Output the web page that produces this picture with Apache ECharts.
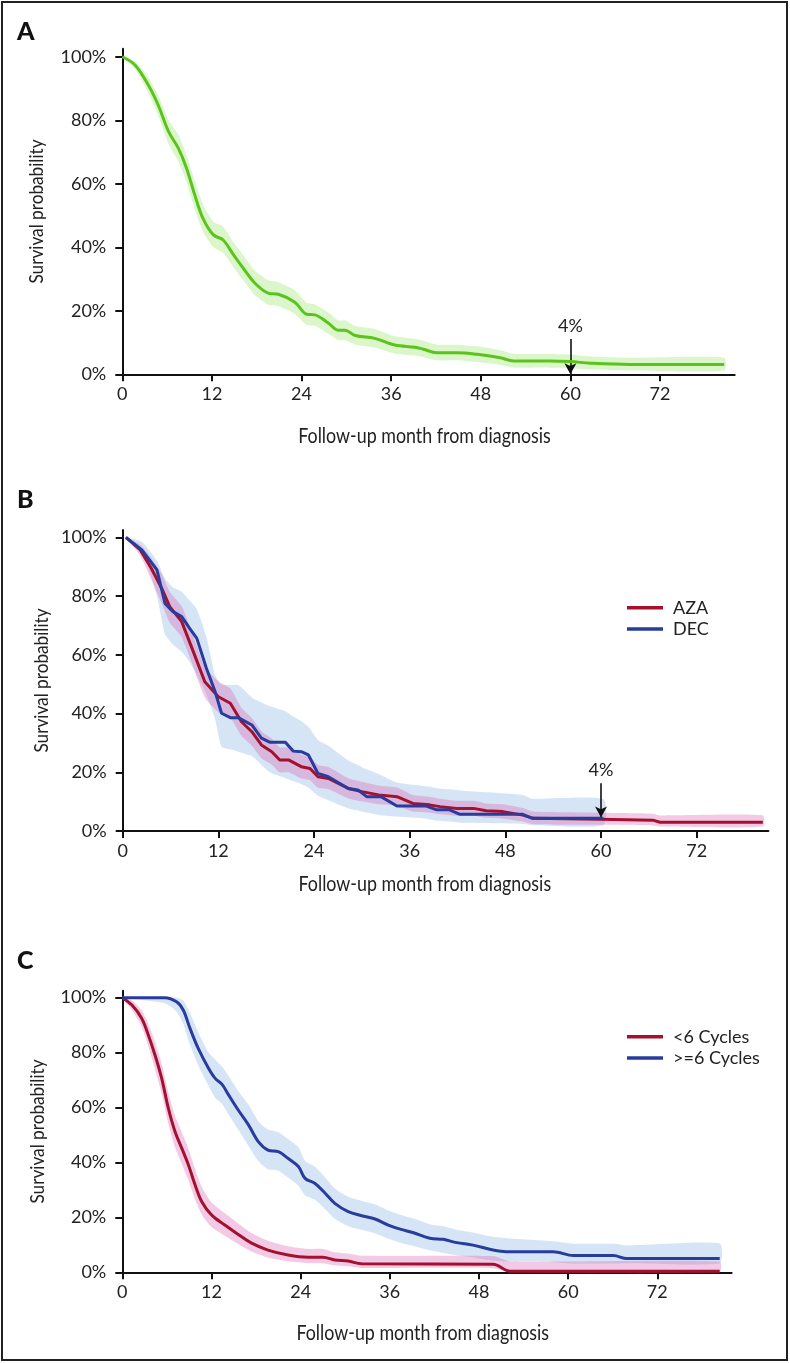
<!DOCTYPE html>
<html>
<head>
<meta charset="utf-8">
<script src="https://cdn.jsdelivr.net/npm/echarts@6/dist/echarts.min.js"></script>
<style>
html,body{margin:0;padding:0;background:#fff;}
#chart{width:790px;height:1363px;}
</style>
</head>
<body>
<div id="chart"></div>
<script>
// ---------- Panel A: all patients ----------
const aMonths = [0, 1.7, 3.5, 4.8, 6.2, 7.5, 8.6, 9.7, 10.8, 12.2, 13.5, 14.9, 16.2, 17.8, 19.6, 20.9, 23.1, 24.7, 25.8, 27.6, 28.9, 29.8, 31.2, 33.8, 36.5, 39.2, 40.3, 42.1, 44.8, 47.5, 50.6, 52.4, 57.3, 60, 62.7, 68, 80.6];
const aSurv   = [100, 97.4, 91, 84.8, 76.4, 71.2, 64.9, 56.5, 49.1, 43.9, 42.3, 37.6, 33.4, 28.6, 25.5, 25.2, 22.7, 18.9, 18.7, 16.1, 13.9, 13.9, 12.2, 11.3, 9.2, 8.5, 7.9, 6.8, 6.8, 6.3, 5.2, 4.2, 4.2, 4.0, 3.5, 3.1, 3.1];
const aUpper  = [100, 98.5, 93.5, 88, 80, 75.5, 69, 61, 53.5, 48, 46.5, 41.5, 37.5, 32.5, 29.5, 29, 26.5, 22.5, 22, 19.5, 17, 17, 15.2, 14.3, 12, 11.2, 10.6, 9.4, 9.3, 8.8, 7.6, 6.5, 6.4, 6.2, 5.6, 5.2, 5.2];
const aLower  = [100, 96.2, 88.5, 81.5, 72.5, 67, 60.5, 52, 45, 40, 38.3, 33.7, 29.5, 24.8, 21.8, 21.5, 19, 15.5, 15.3, 12.8, 10.8, 10.8, 9.3, 8.4, 6.5, 5.9, 5.4, 4.4, 4.4, 3.9, 3.0, 2.1, 2.1, 1.9, 1.5, 1.2, 1.2];

// ---------- Panel B: AZA vs DEC ----------
const bAzaMonths = [0.4, 2.2, 3.6, 4.9, 5.9, 7.4, 8.7, 10.3, 12, 13.5, 14.9, 16.2, 17.4, 18.7, 19.7, 20.8, 22.4, 23.5, 24.5, 25.8, 28.3, 30, 32.1, 34.4, 36.4, 38.5, 39.8, 41.9, 44, 45.6, 47.7, 50.2, 51.5, 59.9, 66.5, 67.4, 80.3];
const bAzaSurv   = [100, 95.7, 89.4, 82.6, 76.4, 71.3, 62.2, 50.8, 45.7, 43.5, 37.2, 33.8, 29.3, 27, 24.2, 24.2, 21.9, 21.3, 18.5, 17.9, 14.5, 13.4, 12.3, 11.7, 9.4, 8.9, 8.3, 7.7, 7.7, 6.9, 6.6, 5.4, 4.3, 4.0, 3.7, 3.0, 3.0];
const bAzaUpper  = [100, 97.5, 93, 87.5, 81.5, 76.5, 67.5, 56, 51, 48.5, 42, 38.5, 34, 31.5, 28.5, 28.5, 26, 25.3, 22.5, 21.8, 18, 16.8, 15.5, 14.8, 12.3, 11.7, 11, 10.3, 10.3, 9.4, 9.1, 7.8, 6.6, 6.2, 5.9, 5.3, 5.3];
const bAzaLower  = [100, 93.7, 85.5, 77.5, 71, 66, 57, 45.5, 40.5, 38.5, 32.4, 29, 24.8, 22.6, 20, 20, 17.9, 17.3, 14.7, 14.2, 11.1, 10.1, 9.1, 8.6, 6.6, 6.2, 5.7, 5.2, 5.2, 4.5, 4.2, 3.2, 2.3, 2.1, 1.9, 1.5, 1.5];

const bDecMonths = [0.4, 2.4, 4.3, 5.3, 6.3, 7.4, 8.4, 9.3, 10.5, 11.6, 12.4, 13.5, 14.5, 16.2, 17.4, 18.5, 20.4, 21.4, 22.4, 23.3, 24.5, 25.8, 28.3, 29.5, 30.6, 32.4, 34.4, 38.1, 39.4, 41, 42.3, 50.2, 51.4, 60.3];
const bDecSurv   = [100, 95.7, 88.9, 77.5, 74.7, 73, 69, 65.6, 55.4, 47.4, 40.1, 38.6, 38.6, 36.1, 31.6, 30.2, 30.2, 27.2, 27, 25.9, 19.6, 18.5, 14.5, 14, 11.7, 11.7, 8.5, 8.5, 7.2, 7.2, 5.7, 5.7, 4.3, 4.3];
const bDecUpper  = [100, 98.5, 92, 86, 83, 81.5, 78.5, 75.5, 66, 53.1, 49.7, 49.7, 49.7, 45.5, 43.8, 42.5, 40.8, 39, 37.5, 35.5, 31, 29, 24, 22.5, 21, 19, 16.5, 15.2, 14.6, 14.2, 13.8, 12.3, 11, 10.8];
const bDecLower  = [100, 95.5, 80, 67, 63.5, 61, 57.5, 53, 46.5, 38, 28.7, 27.8, 27, 25.5, 22.5, 20, 18, 17, 16, 14.8, 12, 10.5, 7.7, 7, 6.3, 5.4, 4.9, 4.2, 3.5, 3.2, 2.8, 2.4, 2.0, 2.0];

// ---------- Panel C: <6 vs >=6 cycles ----------
const cLowMonths = [0, 1.3, 2.6, 3.5, 4.4, 5.3, 6.2, 7.1, 8, 8.9, 9.8, 10.7, 12, 13.8, 15.6, 17.4, 19.6, 22.3, 25, 27, 28.6, 30.4, 32.2, 49.9, 52.2, 80.4];
const cLowSurv   = [100, 97.3, 92.5, 86.4, 79.1, 70.6, 59.7, 51.2, 45.2, 39.1, 31.8, 25.7, 20.9, 17.2, 13.8, 10.6, 8.1, 6.3, 5.5, 5.5, 4.5, 4.1, 3.1, 2.9, 0.4, 0.4];
const cLowUpper  = [100, 99, 95.5, 90.5, 84, 76, 65.5, 57, 51, 45, 37.5, 31, 25.5, 21.5, 17.8, 14.3, 11.5, 9.5, 8.5, 8.5, 7.3, 6.8, 6, 5.9, 3.9, 3.9];
const cLowLower  = [100, 95.5, 89.5, 82.3, 74, 65, 54, 45.5, 39.5, 33.5, 26.5, 21, 16.5, 13.3, 10.3, 7.6, 5.4, 4, 3.3, 3.3, 2.5, 2.2, 1.6, 1.5, 0, 0];

const cHighMonths = [0, 5.7, 7.3, 8.2, 9.1, 10.2, 11.6, 12.5, 13.4, 14.3, 15.6, 17, 18.3, 19.6, 21, 22.3, 23.7, 24.6, 25.9, 27.3, 28.6, 30.4, 32.2, 34, 35.8, 37.4, 39.2, 41.4, 43.2, 45, 47.2, 49.9, 51.7, 58, 60.7, 66.1, 67.9, 80.4];
const cHighSurv   = [100, 100, 98.5, 95.5, 88.9, 81.6, 74.3, 70.6, 68.5, 64.6, 59.1, 53.6, 47.6, 44.5, 43.9, 41.5, 38.5, 34.2, 32.4, 28.8, 25.1, 22.1, 20.6, 19.4, 17.2, 15.7, 14.4, 12.4, 12.0, 10.8, 9.9, 8.1, 7.5, 7.5, 6.1, 6.1, 5.0, 5.0];
const cHighUpper  = [100, 100, 100, 99, 94.5, 87.5, 80, 77.5, 75, 71.5, 66, 61, 55, 52, 51, 48.5, 45.5, 40.5, 38.5, 34.5, 30.5, 27.5, 26, 24.8, 22.5, 21, 19.6, 17.5, 16.8, 15.5, 14.5, 12.9, 12.4, 11.3, 10.4, 10.4, 9.8, 10.5];
const cHighLower  = [100, 98, 95, 90.5, 83, 75.5, 68, 63.5, 61.5, 57.5, 52, 46, 40.5, 37.5, 37, 34.5, 31.5, 28, 26.5, 23, 19.5, 16.8, 15.5, 14.2, 12.2, 10.8, 9.6, 8, 7, 6.2, 5.4, 4.2, 3.9, 3.7, 3.2, 3.2, 3.3, 3.3];

// ---------- axis / labels ----------
const xTicks = [0, 12, 24, 36, 48, 60, 72];
const yTicks = [0, 20, 40, 60, 80, 100];
const xTitle = 'Follow-up month from diagnosis';
const yTitle = 'Survival probability';
const panelLetters = ['A', 'B', 'C'];
const annoMonth = 60;
const annoText = '4%';
const annoA = [11.1, 0];     // arrow from/to (survival %)
const annoB = [16.3, 4.6];

const GREEN = '#5ac41b', GREEN_BAND = 'rgba(165,232,125,0.40)';
const RED = '#a3112e', BLUE = '#283c9e';
const BLUE_BAND = 'rgba(170,200,235,0.48)';
const PINK_BAND = 'rgba(215,80,170,0.30)';

const TICK_FONT = 'Lato, "Open Sans", sans-serif';
const TITLE_FONT = '20px Lato, "Open Sans", sans-serif';

function toPts(m, v) { return m.map((x, i) => [x, v[i]]); }

function band(gridIdx, months, lower, upper, color, z) {
  return {
    type: 'custom', xAxisIndex: gridIdx, yAxisIndex: gridIdx, silent: true, z: z,
    data: months.map((m, i) => [m, lower[i], upper[i]]),
    encode: { x: 0, y: [1, 2] },
    renderItem: function (params, api) {
      if (params.dataIndex !== 0) return;
      const pts = [];
      for (let i = 0; i < months.length; i++) pts.push(api.coord([months[i], upper[i]]));
      for (let i = months.length - 1; i >= 0; i--) pts.push(api.coord([months[i], lower[i]]));
      return { type: 'polygon', shape: { points: pts, smooth: 0.2 }, style: { fill: color } };
    }
  };
}

function line(gridIdx, name, months, surv, color, smooth, width, extra) {
  return Object.assign({
    type: 'line', name: name, xAxisIndex: gridIdx, yAxisIndex: gridIdx,
    data: toPts(months, surv), showSymbol: false, symbol: 'none',
    smooth: smooth, z: 5,
    lineStyle: { color: color, width: width }, itemStyle: { color: color },
    emphasis: { disabled: true }
  }, extra || {});
}

function anno(from, to) {
  return {
    silent: true, symbol: ['none', 'arrow'], symbolSize: [9, 11],
    lineStyle: { color: '#111', width: 1.6, type: 'solid' },
    label: { show: true, position: 'start', formatter: annoText, color: '#222',
             fontFamily: TICK_FONT, fontSize: 18, distance: 4 },
    data: [[{ coord: [annoMonth, from] }, { coord: [annoMonth, to] }]]
  };
}

const grids = [
  { left: 122.3, right: 55.3, top: 48.8, height: 325.5 },
  { left: 122.7, right: 21.6, top: 530.0, height: 301.0 },
  { left: 122.3, right: 58.4, top: 990.8, height: 281.5 }
];
const xMax = [82, 81, 82];
// title centres (pixels) for the condensed axis titles
const xTitlePos = [[424.5, 436], [424.8, 884], [422.7, 1333]];
const yTitlePos = [[37, 211.5], [41.7, 680.5], [37.3, 1131.5]];

const xAxes = grids.map((g, i) => ({
  type: 'value', gridIndex: i, min: 0, max: xMax[i], interval: 12,
  splitLine: { show: false },
  axisLine: { show: true, onZero: false, lineStyle: { color: '#111', width: 2 } },
  axisTick: { show: true, length: 7, lineStyle: { color: '#111', width: 2 }, customValues: xTicks },
  axisLabel: { customValues: xTicks, margin: 11, color: '#222', fontFamily: TICK_FONT, fontSize: 18 }
}));
const yAxes = grids.map((g, i) => ({
  type: 'value', gridIndex: i, min: 0, max: 102.5, interval: 20,
  splitLine: { show: false },
  axisLine: { show: true, onZero: false, lineStyle: { color: '#111', width: 2 } },
  axisTick: { show: true, length: 7, lineStyle: { color: '#111', width: 2 }, customValues: yTicks },
  axisLabel: { customValues: yTicks, margin: 16, color: '#222', fontFamily: TICK_FONT, fontSize: 18,
               formatter: v => (v % 20 === 0 && v <= 100) ? v + '%' : '' }
}));

const legendBase = {
  orient: 'vertical', left: 622, itemWidth: 36, itemHeight: 3.5, itemGap: 1.3,
  icon: 'rect', selectedMode: false,
  textStyle: { fontFamily: TICK_FONT, fontSize: 18, color: '#222', lineHeight: 20, padding: [0, 0, 0, 5] }
};

const graphics = [
  { type: 'rect', shape: { x: 2, y: 2, width: 785, height: 1358 }, style: { fill: 'none', stroke: '#222', lineWidth: 2 }, silent: true }
];
const letterTops = [19, 487, 948];
panelLetters.forEach((L, i) => graphics.push({
  type: 'text', left: 17, top: letterTops[i],
  style: { text: L, font: '900 25px Lato, "Open Sans", sans-serif', fill: '#111' }
}));
xTitlePos.forEach(p => graphics.push({
  type: 'text', x: p[0], y: p[1], scaleX: 0.85, silent: true,
  style: { text: xTitle, font: '21px Lato, "Open Sans", sans-serif', fill: '#222', textAlign: 'center', textVerticalAlign: 'middle' }
}));
yTitlePos.forEach(p => graphics.push({
  type: 'text', x: p[0], y: p[1], rotation: Math.PI / 2, scaleX: 0.86, silent: true,
  style: { text: yTitle, font: TITLE_FONT, fill: '#222', textAlign: 'center', textVerticalAlign: 'middle' }
}));

const option = {
  animation: false,
  backgroundColor: '#fff',
  grid: grids,
  xAxis: xAxes,
  yAxis: yAxes,
  legend: [
    Object.assign({}, legendBase, { top: 592.7, data: ['AZA', 'DEC'] }),
    Object.assign({}, legendBase, { top: 1021.7, data: ['<6 Cycles', '>=6 Cycles'] })
  ],
  series: [
    band(0, aMonths, aLower, aUpper, GREEN_BAND, 1),
    line(0, 'All', aMonths, aSurv, GREEN, 0.35, 3, { markLine: anno(annoA[0], annoA[1]) }),

    band(1, bDecMonths, bDecLower, bDecUpper, BLUE_BAND, 1),
    band(1, bAzaMonths, bAzaLower, bAzaUpper, PINK_BAND, 2),
    line(1, 'AZA', bAzaMonths, bAzaSurv, RED, false, 3),
    line(1, 'DEC', bDecMonths, bDecSurv, BLUE, false, 3, { z: 6, markLine: anno(annoB[0], annoB[1]) }),

    band(2, cHighMonths, cHighLower, cHighUpper, BLUE_BAND, 1),
    band(2, cLowMonths, cLowLower, cLowUpper, PINK_BAND, 2),
    line(2, '<6 Cycles', cLowMonths, cLowSurv, RED, 0.35, 3),
    line(2, '>=6 Cycles', cHighMonths, cHighSurv, BLUE, 0.35, 3)
  ],
  graphic: graphics
};

const chart = echarts.init(document.getElementById('chart'), null, { renderer: 'canvas' });
chart.setOption(option);
</script>
</body>
</html>
